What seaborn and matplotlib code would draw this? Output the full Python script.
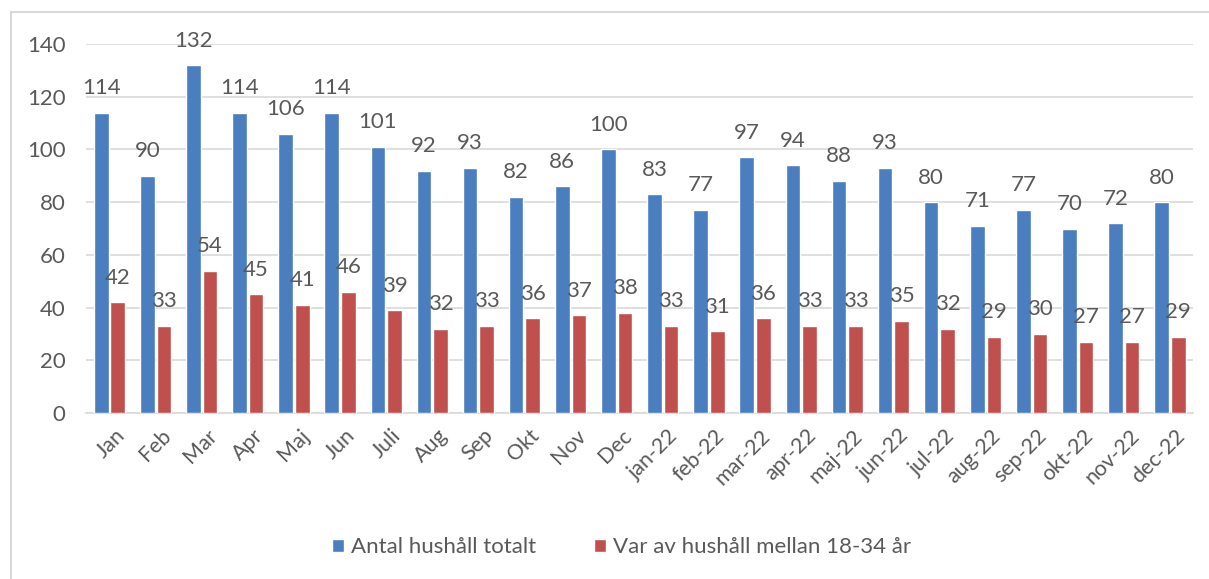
import matplotlib
matplotlib.use("Agg")
import matplotlib.pyplot as plt
import pandas as pd
import seaborn as sns
from matplotlib.lines import Line2D
import matplotlib.transforms as mtransforms

# Data
months = ["Jan", "Feb", "Mar", "Apr", "Maj", "Jun", "Juli", "Aug", "Sep", "Okt", "Nov", "Dec",
          "jan-22", "feb-22", "mar-22", "apr-22", "maj-22", "jun-22", "jul-22", "aug-22",
          "sep-22", "okt-22", "nov-22", "dec-22"]
total = [114, 90, 132, 114, 106, 114, 101, 92, 93, 82, 86, 100,
         83, 77, 97, 94, 88, 93, 80, 71, 77, 70, 72, 80]
young = [42, 33, 54, 45, 41, 46, 39, 32, 33, 36, 37, 38,
         33, 31, 36, 33, 33, 35, 32, 29, 30, 27, 27, 29]
series_names = ["Antal hushåll totalt", "Var av hushåll mellan 18-34 år"]

df = pd.DataFrame({
    "Månad": months * 2,
    "Antal": total + young,
    "Serie": [series_names[0]] * len(months) + [series_names[1]] * len(months),
})

sns.set_theme(style="white")
plt.rcParams["font.family"] = ["Lato", "DejaVu Sans"]
text_color = "#595959"
grid_color = "#d9d9d9"

fig = plt.figure(figsize=(12.09, 5.79), dpi=100)
ax = fig.add_axes([0.0715, 0.2867, 0.9153, 0.6373])

sns.barplot(data=df, x="Månad", y="Antal", hue="Serie",
            palette=["#4a7ebf", "#c0504d"], width=0.72, gap=0.12,
            saturation=1, ax=ax, zorder=3)

for cont in ax.containers:
    ax.bar_label(cont, padding=10.5, fontsize=16, color=text_color)

ax.set_ylim(0, 140)
ax.set_yticks(range(0, 141, 20))
ax.yaxis.grid(True, color=grid_color, linewidth=1.2, zorder=0)
ax.set_axisbelow(True)
for side in ["top", "right", "left"]:
    ax.spines[side].set_visible(False)
ax.spines["bottom"].set_color(grid_color)
ax.spines["bottom"].set_linewidth(1.2)
ax.set_xlabel("")
ax.set_ylabel("")
ax.tick_params(axis="y", length=0, labelsize=16, labelcolor=text_color, pad=15)
ax.tick_params(axis="x", length=0, labelsize=15.5, labelcolor=text_color, pad=9)
shift = mtransforms.ScaledTranslation(5 / 100, 0, fig.dpi_scale_trans)
for lbl in ax.get_xticklabels():
    lbl.set_rotation(45)
    lbl.set_ha("right")
    lbl.set_rotation_mode("anchor")
    lbl.set_transform(lbl.get_transform() + shift)

handles, labels = ax.get_legend_handles_labels()
ax.get_legend().remove()
fig.legend(handles, labels, loc="center", bbox_to_anchor=(0.514, 0.055), ncol=2,
           frameon=False, fontsize=16, labelcolor=text_color,
           handlelength=0.55, handleheight=0.55, handletextpad=0.3, columnspacing=2.6)

# light chart frame visible at the left and top edge
fig.add_artist(Line2D([0.009, 0.009], [0, 0.979], color=grid_color, linewidth=1.5))
fig.add_artist(Line2D([0.009, 1.0], [0.979, 0.979], color=grid_color, linewidth=1.5))

fig.savefig("out.png", dpi=100)
